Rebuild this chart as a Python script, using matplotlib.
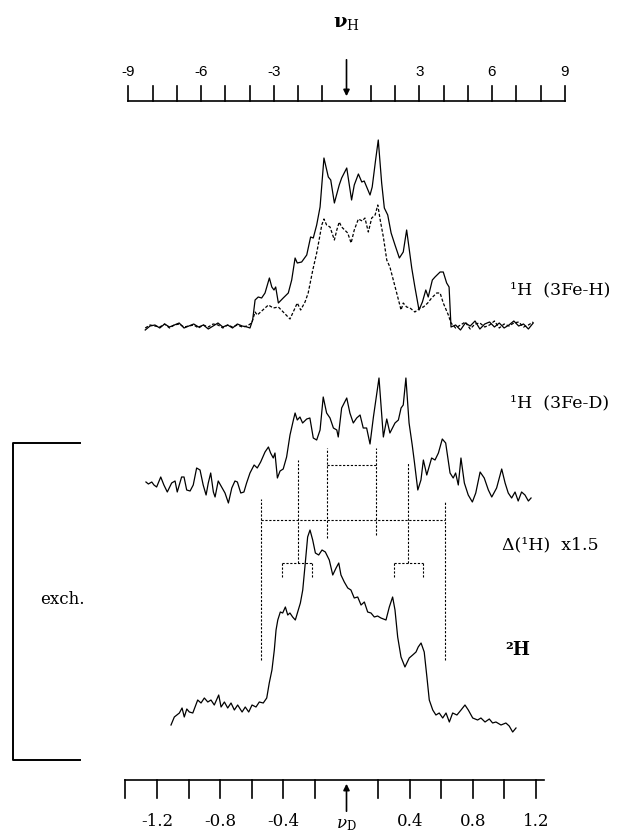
import matplotlib.pyplot as plt

plt.rcParams['font.family'] = ['DejaVu Serif']
plt.rcParams['mathtext.fontset'] = 'dejavuserif'

RATIO = 6.514  # nu_H / nu_D

# 1H (3Fe-H), solid trace: frequency (MHz from nu_H) and intensity (a.u.)
h_freq = [-8.3, -8.1, -7.9, -7.7, -7.5, -7.3, -7.1, -6.9, -6.7, -6.5, -6.3, -6.1,
          -5.9, -5.7, -5.5, -5.3, -5.1, -4.9, -4.7, -4.5, -4.3, -4.1,
          -3.98, -3.87, -3.77, -3.64, -3.50, -3.36, -3.18, -3.08, -2.99, -2.92,
          -2.81, -2.61, -2.40, -2.26, -2.12, -2.03, -1.85, -1.64, -1.48, -1.37,
          -1.23, -1.09, -0.93, -0.75, -0.65, -0.50, -0.30, -0.20, 0.01, 0.21,
          0.32, 0.49, 0.63, 0.73, 0.97, 1.06, 1.20, 1.31, 1.45, 1.56,
          1.70, 1.84, 2.00, 2.18, 2.34, 2.48, 2.58, 2.69, 2.82, 2.99,
          3.13, 3.27, 3.37, 3.54, 3.65, 3.86, 3.99, 4.13, 4.23, 4.31,
          4.5, 4.7, 4.9, 5.1, 5.3, 5.5, 5.7, 5.9, 6.1, 6.3, 6.5, 6.7, 6.9,
          7.1, 7.3, 7.5, 7.7]
h_int = [-3, 1, 2, -1, 3, 0, 2, 4, -1, 1, 3, 0,
         2, -2, 1, 4, 0, 2, -1, 3, 1, 0,
         -1, 7, 27, 30, 29, 34, 49, 40, 37, 40,
         24, 29, 34, 47, 69, 64, 65, 72, 90, 89,
         102, 120, 169, 150, 147, 124, 142, 149, 159, 127,
         142, 153, 145, 146, 132, 140, 167, 187, 144, 119,
         112, 94, 82, 69, 75, 97, 79, 59, 40, 17,
         25, 37, 30, 47, 50, 55, 55, 44, 40, 0,
         2, -3, 4, 1, 6, -2, 3, 5, 0, 4, -1, 2, 6,
         1, 3, -2, 4]

# 1H (3Fe-H), dashed trace
hd_freq = [-8.3, -8.1, -7.9, -7.7, -7.5, -7.3, -7.1, -6.9, -6.7, -6.5, -6.3, -6.1,
           -5.9, -5.7, -5.5, -5.3, -5.1, -4.9, -4.7, -4.5, -4.3, -4.1,
           -3.91, -3.77, -3.68, -3.54, -3.36, -3.22, -3.02, -2.81, -2.61, -2.33,
           -2.16, -2.03, -1.89, -1.71, -1.58, -1.39, -1.23, -1.13, -1.02, -0.93,
           -0.82, -0.68, -0.50, -0.40, -0.30, -0.20, 0.05, 0.19, 0.32, 0.49,
           0.65, 0.76, 0.90, 1.04, 1.18, 1.29, 1.39, 1.52, 1.66, 1.79,
           1.93, 2.07, 2.25, 2.34, 2.48, 2.62, 2.82, 3.03, 3.17, 3.35,
           3.51, 3.72, 3.86, 3.99, 4.20, 4.31,
           4.5, 4.7, 4.9, 5.1, 5.3, 5.5, 5.7, 5.9, 6.1, 6.3, 6.5, 6.7, 6.9,
           7.1, 7.3, 7.5, 7.7]
hd_int = [-1, 2, 1, 0, 3, -1, 2, 3, 0, 1, 2, -1,
          2, 0, 3, 2, -1, 2, 0, 2, 0, 1,
          4, 15, 12, 15, 19, 22, 19, 20, 15, 8,
          17, 24, 17, 25, 34, 57, 74, 87, 102, 108,
          102, 100, 87, 97, 105, 100, 94, 84, 97, 108,
          106, 109, 95, 109, 112, 122, 107, 90, 67, 60,
          47, 34, 17, 24, 20, 19, 15, 19, 20, 24,
          29, 34, 34, 24, 12, 4,
          -1, 2, 5, -2, 3, 4, 0, 2, 6, -1, 3, 1, 4,
          5, 0, 2, 5]

# 1H (3Fe-D)
d1_freq = [-8.27, -8.17, -8.03, -7.94, -7.83, -7.66, -7.53, -7.39, -7.21, -7.07,
           -6.98, -6.80, -6.70, -6.59, -6.45, -6.32, -6.18, -6.04, -5.91, -5.79,
           -5.70, -5.60, -5.49, -5.42, -5.29, -5.15, -5.01, -4.87, -4.73, -4.60,
           -4.50, -4.36, -4.23, -4.12, -3.98, -3.81, -3.68, -3.54, -3.36, -3.22,
           -3.13, -3.02, -2.95, -2.85, -2.74, -2.61, -2.47, -2.33, -2.19, -2.12,
           -2.03, -1.92, -1.81, -1.64, -1.51, -1.37, -1.23, -1.09, -0.96, -0.82,
           -0.68, -0.54, -0.40, -0.34, -0.20, 0.01, 0.14, 0.28, 0.42, 0.56,
           0.69, 0.83, 0.97, 1.11, 1.34, 1.52, 1.66, 1.79, 2.00, 2.14,
           2.25, 2.34, 2.45, 2.58, 2.71, 2.80, 2.94, 3.07, 3.17, 3.31,
           3.51, 3.65, 3.79, 3.95, 4.09, 4.27, 4.40, 4.50, 4.61, 4.72,
           4.86, 5.02, 5.19, 5.33, 5.51, 5.68, 5.85, 5.99, 6.19, 6.40,
           6.54, 6.67, 6.81, 6.95, 7.08, 7.22, 7.36, 7.50, 7.61]
d1_int = [6, 4, 6, 3, 1, 11, 3, -4, 5, 7,
          -4, 11, 11, -2, -3, 3, 20, 18, 3, -7,
          5, 15, -4, -9, 7, 1, -5, -15, 0, 7,
          6, -5, -4, 5, 15, 23, 20, 26, 36, 41,
          35, 30, 35, 10, 17, 19, 31, 53, 68, 75,
          68, 71, 65, 69, 70, 50, 48, 58, 91, 75,
          70, 60, 58, 51, 80, 90, 75, 65, 70, 73,
          60, 60, 44, 71, 110, 51, 69, 55, 65, 68,
          80, 83, 110, 65, 43, 26, -2, 8, 28, 13,
          30, 28, 35, 49, 45, 15, 10, 15, 3, 30,
          5, -7, -14, -5, 16, 10, -2, -9, 0, 19,
          5, -5, -10, -4, -13, -4, -7, -13, -10]

# 2H spectrum, frequency in MHz from nu_D
d2_freq = [-1.111, -1.090, -1.058, -1.041, -1.027, -1.011, -0.995, -0.973, -0.942, -0.921,
           -0.900, -0.878, -0.858, -0.837, -0.809, -0.794, -0.773, -0.752, -0.731, -0.710,
           -0.689, -0.661, -0.641, -0.619, -0.598, -0.573, -0.552, -0.527, -0.505, -0.489,
           -0.472, -0.457, -0.446, -0.435, -0.419, -0.404, -0.387, -0.372, -0.358, -0.341,
           -0.324, -0.309, -0.292, -0.277, -0.261, -0.246, -0.231, -0.214, -0.197, -0.176,
           -0.155, -0.134, -0.109, -0.087, -0.066, -0.049, -0.035, -0.014, 0.008, 0.028,
           0.049, 0.071, 0.092, 0.113, 0.134, 0.155, 0.176, 0.197, 0.218, 0.250,
           0.271, 0.292, 0.307, 0.324, 0.345, 0.370, 0.397, 0.419, 0.440, 0.454,
           0.472, 0.492, 0.509, 0.524, 0.546, 0.566, 0.587, 0.609, 0.630, 0.651,
           0.672, 0.699, 0.725, 0.750, 0.771, 0.799, 0.830, 0.851, 0.877, 0.904,
           0.925, 0.946, 0.978, 1.009, 1.030, 1.052, 1.073]
d2_int = [-5, 3, 7, 12, 3, 11, 8, 7, 20, 17,
          22, 18, 20, 15, 25, 13, 18, 12, 17, 10,
          15, 8, 13, 8, 15, 13, 18, 17, 22, 37,
          50, 70, 90, 100, 108, 107, 113, 105, 107, 103,
          100, 108, 117, 130, 157, 183, 190, 180, 167, 165,
          170, 168, 160, 145, 152, 157, 145, 138, 132, 130,
          122, 123, 115, 118, 108, 107, 103, 104, 102, 100,
          113, 123, 110, 83, 63, 53, 62, 65, 68, 73,
          77, 68, 43, 20, 10, 5, 7, 2, 7, -2,
          7, 5, 10, 15, 10, 2, 0, 2, -2, 1,
          -3, -2, -5, -3, -6, -12, -8]

# vertical offsets of the three spectra
off_h, off_d1, off_d2 = 508, 347, 115

# stick diagram (nu_H MHz): vertical sticks (x, y_low, y_high) and horizontal bars (y, x0, x1)
stick_x = [-3.53, -1.99, -0.80, 1.22, 2.54, 4.08, -2.64, -1.44, 1.96, 3.14]
stick_lo = [175, 272, 297, 300, 272, 175, 258, 258, 258, 258]
stick_hi = [336, 375, 387, 387, 372, 333, 272, 272, 272, 272]
bar_y = [370, 315, 272, 272]
bar_x0 = [-0.80, -3.53, -2.64, 1.96]
bar_x1 = [1.22, 4.08, -1.44, 3.14]

# scales
top_ticks = [-9, -8, -7, -6, -5, -4, -3, -2, -1, 1, 2, 3, 4, 5, 6, 7, 8, 9]
top_labels = [-9, -6, -3, 3, 6, 9]
bot_ticks = [-1.4, -1.2, -1.0, -0.8, -0.6, -0.4, -0.2, 0.2, 0.4, 0.6, 0.8, 1.0, 1.2]
bot_labels = [-1.2, -0.8, -0.4, 0.4, 0.8, 1.2]

fig = plt.figure(figsize=(6.25, 8.35), dpi=100)
ax = fig.add_axes([0, 0, 1, 1])
ax.set_xlim(-346.5 / 24.25, 278.5 / 24.25)
ax.set_ylim(0, 835)
ax.axis('off')

# spectra
ax.plot(h_freq, [v + off_h for v in h_int], color='k', lw=0.9)
ax.plot(hd_freq, [v + off_h for v in hd_int], color='k', lw=0.9, ls=(0, (2.5, 1.5)))
ax.plot(d1_freq, [v + off_d1 for v in d1_int], color='k', lw=0.9)
ax.plot([f * RATIO for f in d2_freq], [v + off_d2 for v in d2_int], color='k', lw=0.9)

# stick diagram
dot = dict(color='k', lw=0.8, ls=(0, (2, 1.5)))
for x, lo, hi in zip(stick_x, stick_lo, stick_hi):
    ax.plot([x, x], [lo, hi], **dot)
for y, x0, x1 in zip(bar_y, bar_x0, bar_x1):
    ax.plot([x0, x1], [y, y], **dot)

# top nu_H scale
ax.plot([-9, 9], [734, 734], color='k', lw=1.2)
for t in top_ticks:
    ax.plot([t, t], [734, 749], color='k', lw=1.2)
for t in top_labels:
    ax.text(t, 763, str(t), ha='center', va='center', fontsize=11, family='Liberation Sans')
ax.annotate('', xy=(0, 736), xytext=(0, 778),
            arrowprops=dict(arrowstyle='-|>', color='k', lw=1.2, mutation_scale=9))
ax.text(0, 812, r'$\mathbf{\nu}_{\rm H}$', ha='center', va='center', fontsize=14)

# bottom nu_D scale
ax.plot([-1.4 * RATIO, 1.25 * RATIO], [55, 55], color='k', lw=1.2)
for t in bot_ticks:
    ax.plot([t * RATIO, t * RATIO], [37, 55], color='k', lw=1.2)
for t in bot_labels:
    ax.text(t * RATIO, 14, f'{t:.1f}', ha='center', va='center', fontsize=12)
ax.annotate('', xy=(0, 54), xytext=(0, 21),
            arrowprops=dict(arrowstyle='-|>', color='k', lw=1.2, mutation_scale=9))
ax.text(0, 2, r'$\nu_{\rm D}$', ha='center', va='bottom', fontsize=12)

# exchange bracket
ax.plot([-10.99, -13.75, -13.75, -10.99], [392, 392, 75, 75], color='k', lw=1.4)
ax.text(-12.64, 235, 'exch.', ha='left', va='center', fontsize=12)

# trace labels
ax.text(6.74, 545, '¹H  (3Fe-H)', ha='left', va='center', fontsize=12.5)
ax.text(6.74, 432, '¹H  (3Fe-D)', ha='left', va='center', fontsize=12.5)
ax.text(6.41, 290, 'Δ(¹H)  x1.5', ha='left', va='center', fontsize=12.5)
ax.text(6.54, 185, '²H', ha='left', va='center', fontsize=13, fontweight='bold')

fig.savefig('out.png', dpi=100)
